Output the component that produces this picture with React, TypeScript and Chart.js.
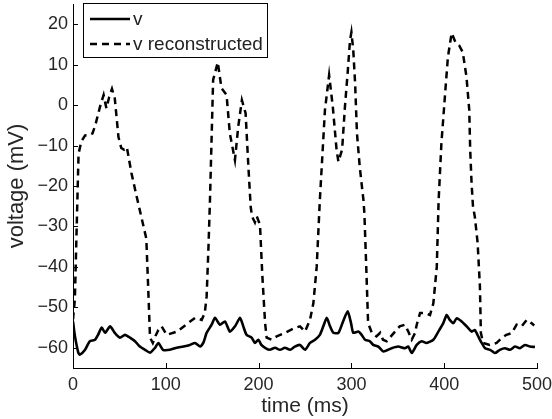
import React, { useEffect, useRef } from "react";
import { Chart, registerables } from "chart.js";

Chart.register(...registerables);

const FONT = "'Liberation Sans', Arial, Helvetica, sans-serif";

// time axis ticks and voltage axis ticks
const xTicks = [0, 100, 200, 300, 400, 500];
const yTicks = [-60, -50, -40, -30, -20, -10, 0, 10, 20];

// series "v"
const vTime = [0, 2, 5.7, 7.5, 13, 18, 23.7, 27, 31, 34.5, 40, 45, 50.6, 56, 61.4, 66.8, 72, 77.6, 83, 88.4, 92, 97, 104.5, 111.7, 119, 126, 131.5, 137, 140.4, 144, 149.4, 153, 158.4, 163.8, 169, 174.6, 180, 183.5, 187, 192.5, 196, 199.7, 203, 207, 212, 217.7, 223, 228.4, 234, 239, 244.6, 250, 255.4, 260.8, 266, 269.7, 273.4, 277, 280.5, 286, 291, 296, 299.6, 302, 307.5, 311, 314.7, 320, 323.6, 329, 334.4, 343.4, 350.5, 357.8, 361.3, 365, 370.4, 375.7, 381, 388.3, 393.7, 399, 402.7, 406, 409.8, 413.5, 418.8, 424.2, 429.6, 433, 436.7, 440.4, 444, 449.4, 454.7, 460, 465.5, 471, 476.3, 481.7, 487, 492.5, 497.8];
const vValues = [-53.5, -57, -61.2, -61.7, -60.5, -58.4, -58, -56.8, -55, -56.3, -54.7, -56.3, -57.5, -56.8, -57.5, -58.4, -59.7, -60.5, -61.2, -60, -58.8, -60.5, -60.5, -60, -59.7, -59.3, -58.8, -59.7, -58.8, -56.3, -54.3, -52.6, -54.3, -53.5, -56, -54.7, -52.6, -54.7, -56.8, -57.5, -58.8, -58, -59.3, -60, -60.5, -60, -60.5, -60, -60.5, -59.7, -59.3, -60.5, -58.8, -58, -56.8, -54.7, -52.6, -54.7, -56.3, -56.3, -53.5, -51, -53.9, -56.3, -56, -56.8, -58, -58.4, -59.3, -59.7, -60.9, -60.1, -59.7, -60.1, -59.7, -61.3, -59.3, -58.4, -58.8, -58, -56, -53.9, -51.9, -53.1, -53.9, -52.7, -53.5, -54.7, -56, -55.6, -57.2, -58.8, -60.1, -60.5, -61.3, -60.5, -60.1, -60.5, -59.7, -60.1, -59.3, -59.7, -59.8];

// series "v reconstructed"
const recTime = [0, 2, 4, 6, 9, 13, 18, 21, 24, 29, 33, 36, 39, 42, 45, 49, 52, 55, 58, 63, 68, 74, 79, 81, 83, 86, 89, 92, 95.5, 101, 112, 124, 131.5, 138.7, 142, 144, 146, 147.6, 151, 156, 160, 165.5, 169, 174.5, 178, 182, 186, 189, 191.5, 193, 196, 198, 201.5, 204, 207, 208.7, 214, 219.5, 228.4, 239, 244.6, 250, 255.4, 259, 262.6, 266, 271.5, 276, 280, 284, 286, 290, 293, 296, 298.5, 300, 302, 304, 306, 309, 313, 314, 316, 318, 322, 327, 331, 334, 338, 347, 352, 357.8, 361.3, 365, 368.5, 370.4, 374, 379.3, 384.7, 388.3, 392, 394, 397, 401, 404, 408, 412, 416, 420, 424, 427, 428, 429.5, 431, 433, 436, 438.5, 439.5, 442, 449, 456.5, 462, 467, 472.7, 478, 483.5, 489, 494, 497];
const recValues = [-53, -48, -30, -12, -9, -7.5, -7.4, -7, -5, -0.5, 2.5, -0.8, 2, 4, 1.7, -7.9, -10.6, -11, -10.4, -16.8, -22, -28, -33, -45, -57.5, -58.8, -57, -55.6, -54.7, -56.8, -56, -53.9, -52.6, -53.1, -51.4, -47.3, -35, -23.5, 6.2, 10.6, 4.2, 2.5, -7, -13.6, -5.4, 1.2, -2, -15.3, -25.2, -27.6, -29, -27.5, -29.6, -42, -53.9, -57.5, -58, -57.2, -56.3, -55.1, -54.7, -56, -53.1, -49, -40, -23.5, -1.2, 7.4, -0.5, -11, -14, -11, -0.5, 8.1, 16, 18, 13.6, 5.4, -7, -15.3, -23.5, -26.8, -40, -53.9, -56.3, -57.2, -56.3, -58, -58.4, -56, -54.7, -54.3, -56, -58, -56.4, -54.3, -51.4, -51.4, -51.9, -49, -40, -23.5, -9.4, 2.9, 11.9, 17.8, 15.6, 14.8, 13.1, 7, -1.2, -11, -19.3, -25, -27.6, -34, -44.9, -56.3, -58.8, -59.3, -58.8, -57.6, -56.8, -56.4, -54.3, -54.7, -53.1, -53.9, -54.5];

const seriesLabels = ["v", "v reconstructed"];

const insideTicks = {
  id: "insideTicks",
  afterDatasetsDraw(chart: any) {
    const { ctx, chartArea } = chart;
    const xs = chart.scales.x;
    const ys = chart.scales.y;
    ctx.save();
    ctx.strokeStyle = "#000";
    ctx.lineWidth = 1;
    ctx.setLineDash([]);
    ctx.beginPath();
    xs.ticks.forEach((t: any) => {
      const px = Math.round(xs.getPixelForValue(t.value)) + 0.5;
      ctx.moveTo(px, chartArea.bottom);
      ctx.lineTo(px, chartArea.bottom - 5);
    });
    ys.ticks.forEach((t: any) => {
      const py = Math.round(ys.getPixelForValue(t.value)) + 0.5;
      ctx.moveTo(chartArea.left, py);
      ctx.lineTo(chartArea.left + 5, py);
    });
    ctx.stroke();
    ctx.restore();
  },
};

const boxLegend = {
  id: "boxLegend",
  afterDraw(chart: any) {
    const { ctx, chartArea } = chart;
    const left = chartArea.left + 10;
    const top = 3;
    const w = 184;
    const h = 54;
    ctx.save();
    ctx.fillStyle = "#fff";
    ctx.fillRect(left, top, w, h);
    ctx.strokeStyle = "#000";
    ctx.lineWidth = 1;
    ctx.setLineDash([]);
    ctx.strokeRect(left + 0.5, top + 0.5, w, h);
    chart.data.datasets.forEach((ds: any, i: number) => {
      const ly = top + 16 + i * 25;
      ctx.beginPath();
      ctx.setLineDash(ds.borderDash || []);
      ctx.lineWidth = ds.borderWidth;
      ctx.strokeStyle = ds.borderColor;
      ctx.moveTo(left + 7, ly);
      ctx.lineTo(left + 47, ly);
      ctx.stroke();
      ctx.setLineDash([]);
      ctx.fillStyle = "#222";
      ctx.font = `19px ${FONT}`;
      ctx.textBaseline = "middle";
      ctx.textAlign = "left";
      ctx.fillText(ds.label, left + 50, ly + 1);
    });
    ctx.restore();
  },
};

export default function App() {
  const ref = useRef<HTMLCanvasElement | null>(null);
  useEffect(() => {
    if (!ref.current) return;
    const chart = new Chart(ref.current, {
      type: "line",
      data: {
        datasets: [
          {
            label: seriesLabels[0],
            data: vTime.map((t, i) => ({ x: t, y: vValues[i] })),
            borderColor: "#000",
            borderWidth: 2.6,
            pointRadius: 0,
            tension: 0.2,
            fill: false,
          },
          {
            label: seriesLabels[1],
            data: recTime.map((t, i) => ({ x: t, y: recValues[i] })),
            borderColor: "#000",
            borderWidth: 2.5,
            borderDash: [7, 5],
            pointRadius: 0,
            tension: 0,
            fill: false,
          },
        ],
      },
      options: {
        animation: false,
        responsive: false,
        maintainAspectRatio: false,
        layout: { padding: { left: 0, right: 15, top: 4, bottom: 0 } },
        plugins: {
          legend: { display: false },
          tooltip: { enabled: false },
        },
        scales: {
          x: {
            type: "linear",
            min: 0,
            max: 500,
            afterBuildTicks: (s: any) => {
              s.ticks = xTicks.map((v) => ({ value: v }));
            },
            afterFit: (s: any) => {
              s.height = 51;
              s.paddingLeft = 0;
              s.paddingRight = 0;
            },
            ticks: {
              font: { family: FONT, size: 18 },
              color: "#262626",
              padding: 6,
              maxRotation: 0,
            },
            grid: { drawOnChartArea: false, drawTicks: false },
            border: { display: true, color: "#000", width: 1 },
            title: {
              display: true,
              text: "time (ms)",
              font: { family: FONT, size: 21 },
              color: "#262626",
              padding: { top: 0, bottom: 0 },
            },
          },
          y: {
            type: "linear",
            min: -65,
            max: 25,
            afterBuildTicks: (s: any) => {
              s.ticks = yTicks.map((v) => ({ value: v }));
            },
            afterFit: (s: any) => {
              s.width = 73;
              s.paddingTop = 0;
              s.paddingBottom = 0;
            },
            ticks: {
              font: { family: FONT, size: 18 },
              color: "#262626",
              padding: 5,
              callback: (v: any) => (Number(v) < 0 ? "\u2212" + Math.abs(Number(v)) : String(v)),
            },
            grid: { drawOnChartArea: false, drawTicks: false },
            border: { display: true, color: "#000", width: 1 },
            title: {
              display: true,
              text: "voltage (mV)",
              font: { family: FONT, size: 22 },
              color: "#262626",
              padding: { top: 4, bottom: 0 },
            },
          },
        },
      },
      plugins: [insideTicks, boxLegend],
    });
    return () => chart.destroy();
  }, []);
  return (
    <div style={{ position: "absolute", left: 0, top: 0, width: 552, height: 419, background: "#fff" }}>
      <canvas ref={ref} width={552} height={419} style={{ display: "block" }} />
    </div>
  );
}
